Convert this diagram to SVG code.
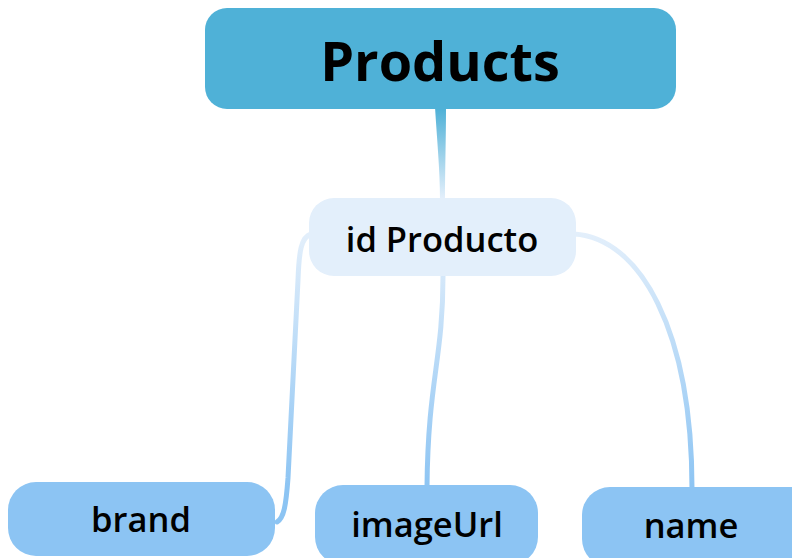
<svg xmlns="http://www.w3.org/2000/svg" width="792" height="558" viewBox="0 0 792 558">
<defs>
<linearGradient id="gTop" x1="0" y1="109" x2="0" y2="198" gradientUnits="userSpaceOnUse">
<stop offset="0" stop-color="#4FB1D7"/><stop offset="1" stop-color="#E3EFFB"/>
</linearGradient>
<linearGradient id="gLeaf" x1="0" y1="233" x2="0" y2="490" gradientUnits="userSpaceOnUse">
<stop offset="0" stop-color="#E3EFFB"/><stop offset="1" stop-color="#8CC4F3"/>
</linearGradient>
<style>
.t{font-family:"Open Sans","Liberation Sans",sans-serif;fill:#000;text-anchor:middle}
.root{fill:#4FB1D7}
.mid{fill:#E3EFFB}
.leaf{fill:#8CC4F3}
.c{fill:none;stroke:url(#gLeaf);stroke-width:5;stroke-linecap:round}
</style>
</defs>
<g id="connectors">
<path d="M435,107 C437,140 440,170 440,200 L445,200 C445,170 446,140 446,107 Z" fill="url(#gTop)"/>
<path class="c" d="M311,234 C301,237 299,252 298,280 L288,478 C286,505 284,518 277,522"/>
<path class="c" d="M443,276 C443,360 428,380 427,487"/>
<path class="c" d="M574,234 C640,238 692,330 692,489"/>
</g>
<g id="products">
<rect class="root" x="205" y="8" width="471" height="101" rx="22"/>
<text class="t" x="440" y="81" font-size="54" font-weight="700">Products</text>
</g>
<g id="idProducto">
<rect class="mid" x="309" y="198" width="267" height="78" rx="25"/>
<text class="t" x="442" y="252" font-size="34.5" font-weight="600">id Producto</text>
</g>
<g id="brand">
<rect class="leaf" x="8" y="482" width="267" height="74" rx="28"/>
<text class="t" x="141" y="532" font-size="34.5" font-weight="600">brand</text>
</g>
<g id="imageUrl">
<rect class="leaf" x="315" y="485" width="223" height="80" rx="28"/>
<text class="t" x="427" y="537" font-size="34.5" font-weight="600">imageUrl</text>
</g>
<g id="name">
<rect class="leaf" x="582" y="487" width="240" height="80" rx="28"/>
<text class="t" x="691" y="538" font-size="34.5" font-weight="600">name</text>
</g>
</svg>
